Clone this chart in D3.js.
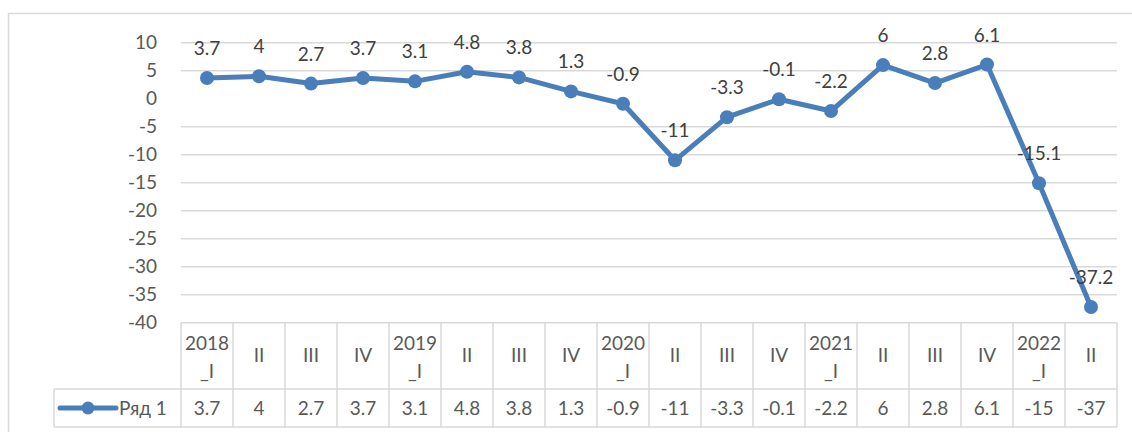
<!DOCTYPE html>
<html>
<head>
<meta charset="utf-8">
<script src="https://cdn.jsdelivr.net/npm/d3@7"></script>
<style>
  body { margin: 0; background: #fff; }
  svg { display: block; font-family: Lato, "Open Sans", sans-serif; }
</style>
</head>
<body>
<div id="chart"></div>
<script>
const categories = ["2018_I", "II", "III", "IV", "2019_I", "II", "III", "IV", "2020_I", "II", "III", "IV", "2021_I", "II", "III", "IV", "2022_I", "II"];
const values = [3.7, 4, 2.7, 3.7, 3.1, 4.8, 3.8, 1.3, -0.9, -11, -3.3, -0.1, -2.2, 6, 2.8, 6.1, -15.1, -37.2];
const tableLabels = ["3.7", "4", "2.7", "3.7", "3.1", "4.8", "3.8", "1.3", "-0.9", "-11", "-3.3", "-0.1", "-2.2", "6", "2.8", "6.1", "-15", "-37"];
const yTicks = [10, 5, 0, -5, -10, -15, -20, -25, -30, -35, -40];
const seriesName = "Ряд 1";

const width = 1132, height = 432;
const plot = { left: 181, right: 1117, top: 42.7, bottom: 322.7 };
const table = { catBottom: 389, valBottom: 427, legendLeft: 54 };
const blue = "#4a7ebb", grid = "#d9d9d9", textColor = "#595959";

const svg = d3.select("#chart").append("svg")
  .attr("width", width)
  .attr("height", height);

// outer chart border
svg.append("rect")
  .attr("x", 8.5).attr("y", 13.5)
  .attr("width", 1140).attr("height", 440)
  .attr("fill", "none")
  .attr("stroke", grid)
  .attr("stroke-width", 1.5);

const x = d3.scaleBand()
  .domain(d3.range(categories.length))
  .range([plot.left, plot.right]);
const cx = i => x(i) + x.bandwidth() / 2;

const y = d3.scaleLinear()
  .domain([-40, 10])
  .range([plot.bottom, plot.top]);

// gridlines (no line at zero, as in the original)
svg.append("g")
  .selectAll("line")
  .data(yTicks.filter(t => t !== 0 && t !== -40))
  .join("line")
  .attr("x1", plot.left).attr("x2", plot.right)
  .attr("y1", d => y(d)).attr("y2", d => y(d))
  .attr("stroke", grid)
  .attr("stroke-width", 1.5);

// y tick labels
svg.append("g")
  .selectAll("text")
  .data(yTicks)
  .join("text")
  .attr("x", 157)
  .attr("y", d => y(d))
  .attr("dy", "0.35em")
  .attr("text-anchor", "end")
  .attr("font-size", "19px")
  .attr("fill", textColor)
  .text(d => d);

// data table grid
const tbl = svg.append("g")
  .attr("stroke", grid)
  .attr("stroke-width", 1.5);

tbl.append("line")
  .attr("x1", plot.left).attr("x2", plot.right)
  .attr("y1", plot.bottom).attr("y2", plot.bottom);
tbl.append("line")
  .attr("x1", table.legendLeft).attr("x2", plot.right)
  .attr("y1", table.catBottom).attr("y2", table.catBottom);
tbl.append("line")
  .attr("x1", table.legendLeft).attr("x2", plot.right)
  .attr("y1", table.valBottom).attr("y2", table.valBottom);
tbl.append("line")
  .attr("x1", table.legendLeft).attr("x2", table.legendLeft)
  .attr("y1", table.catBottom).attr("y2", table.valBottom);
tbl.selectAll(".vline")
  .data(d3.range(categories.length + 1))
  .join("line")
  .attr("class", "vline")
  .attr("x1", i => i < categories.length ? x(i) : plot.right)
  .attr("x2", i => i < categories.length ? x(i) : plot.right)
  .attr("y1", plot.bottom).attr("y2", table.valBottom);

// category labels
const catG = svg.append("g")
  .attr("font-size", "19px")
  .attr("fill", textColor)
  .attr("text-anchor", "middle");

categories.forEach((c, i) => {
  const parts = c.split("_");
  if (parts.length > 1) {
    catG.append("text").attr("x", cx(i)).attr("y", 350).text(parts[0]);
    catG.append("text").attr("x", cx(i)).attr("y", 378).text("_" + parts[1]);
  } else {
    catG.append("text").attr("x", cx(i)).attr("y", 362).text(c);
  }
});

// table values
svg.append("g")
  .selectAll("text")
  .data(tableLabels)
  .join("text")
  .attr("x", (d, i) => cx(i))
  .attr("y", 415)
  .attr("text-anchor", "middle")
  .attr("font-size", "19px")
  .attr("fill", textColor)
  .text(d => d);

// legend key in table
const legY = (table.catBottom + table.valBottom) / 2;
svg.append("line")
  .attr("x1", 60).attr("x2", 116)
  .attr("y1", legY).attr("y2", legY)
  .attr("stroke", blue)
  .attr("stroke-width", 5)
  .attr("stroke-linecap", "round");
svg.append("circle")
  .attr("cx", 88).attr("cy", legY).attr("r", 6.5)
  .attr("fill", blue);
svg.append("text")
  .attr("x", 119).attr("y", 415)
  .attr("font-size", "19px")
  .attr("fill", textColor)
  .text(seriesName);

// series line
const line = d3.line()
  .x((d, i) => cx(i))
  .y(d => y(d));

svg.append("path")
  .datum(values)
  .attr("d", line)
  .attr("fill", "none")
  .attr("stroke", blue)
  .attr("stroke-width", 5)
  .attr("stroke-linejoin", "round");

svg.append("g")
  .selectAll("circle")
  .data(values)
  .join("circle")
  .attr("cx", (d, i) => cx(i))
  .attr("cy", d => y(d))
  .attr("r", 7)
  .attr("fill", blue);

// data labels
svg.append("g")
  .selectAll("text")
  .data(values)
  .join("text")
  .attr("x", (d, i) => cx(i))
  .attr("y", d => y(d) - 23)
  .attr("text-anchor", "middle")
  .attr("font-size", "19px")
  .attr("fill", "#404040")
  .text(d => d);
</script>
</body>
</html>
